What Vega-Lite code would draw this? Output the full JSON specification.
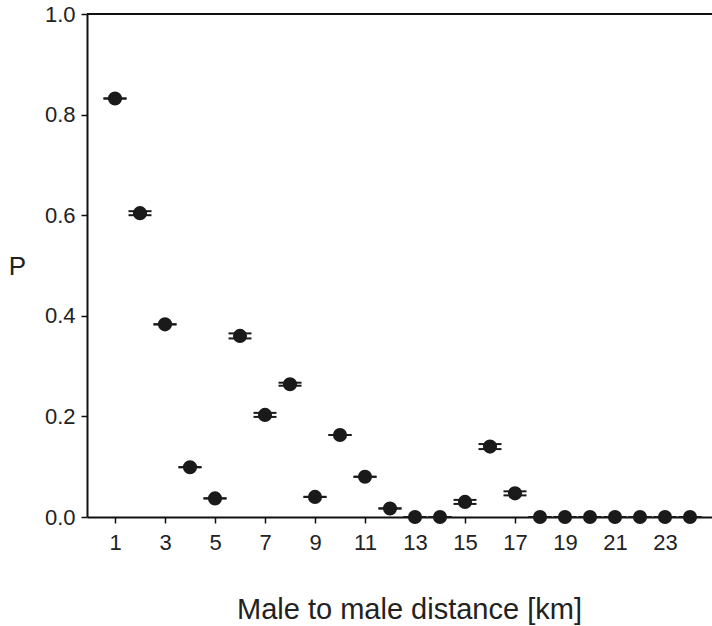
{
  "$schema": "https://vega.github.io/schema/vega-lite/v6.json",
  "autosize": {"type": "none"},
  "width": 625,
  "height": 503,
  "padding": {"left": 87, "top": 14, "right": 0, "bottom": 109},
  "background": "white",
  "config": {
    "view": {"stroke": null},
    "font": "Liberation Sans",
    "axis": {
      "domainColor": "#111",
      "domainWidth": 2,
      "tickColor": "#111",
      "tickWidth": 1.5,
      "tickSize": 6,
      "grid": false,
      "labelColor": "#222",
      "labelFont": "Liberation Sans",
      "labelFontSize": 22,
      "titleFont": "Liberation Sans",
      "titleFontWeight": "normal",
      "titleColor": "#222"
    }
  },
  "data": {
    "values": [
      {"d": 1, "p": 0.832, "lo": 0.832, "hi": 0.832},
      {"d": 2, "p": 0.604, "lo": 0.600, "hi": 0.608},
      {"d": 3, "p": 0.383, "lo": 0.383, "hi": 0.383},
      {"d": 4, "p": 0.099, "lo": 0.099, "hi": 0.099},
      {"d": 5, "p": 0.037, "lo": 0.037, "hi": 0.037},
      {"d": 6, "p": 0.360, "lo": 0.355, "hi": 0.365},
      {"d": 7, "p": 0.203, "lo": 0.199, "hi": 0.207},
      {"d": 8, "p": 0.264, "lo": 0.261, "hi": 0.267},
      {"d": 9, "p": 0.040, "lo": 0.040, "hi": 0.040},
      {"d": 10, "p": 0.163, "lo": 0.163, "hi": 0.163},
      {"d": 11, "p": 0.080, "lo": 0.080, "hi": 0.080},
      {"d": 12, "p": 0.017, "lo": 0.017, "hi": 0.017},
      {"d": 13, "p": 0.0, "lo": 0.0, "hi": 0.0},
      {"d": 14, "p": 0.0, "lo": 0.0, "hi": 0.0},
      {"d": 15, "p": 0.030, "lo": 0.026, "hi": 0.034},
      {"d": 16, "p": 0.140, "lo": 0.135, "hi": 0.145},
      {"d": 17, "p": 0.047, "lo": 0.043, "hi": 0.051},
      {"d": 18, "p": 0.0, "lo": 0.0, "hi": 0.0},
      {"d": 19, "p": 0.0, "lo": 0.0, "hi": 0.0},
      {"d": 20, "p": 0.0, "lo": 0.0, "hi": 0.0},
      {"d": 21, "p": 0.0, "lo": 0.0, "hi": 0.0},
      {"d": 22, "p": 0.0, "lo": 0.0, "hi": 0.0},
      {"d": 23, "p": 0.0, "lo": 0.0, "hi": 0.0},
      {"d": 24, "p": 0.0, "lo": 0.0, "hi": 0.0}
    ]
  },
  "encoding": {
    "x": {
      "field": "d",
      "type": "quantitative",
      "scale": {"domain": [-0.12, 24.88], "nice": false, "zero": false},
      "axis": {
        "values": [1, 3, 5, 7, 9, 11, 13, 15, 17, 19, 21, 23],
        "labelPadding": 9,
        "title": "Male to male distance [km]",
        "titleFontSize": 29,
        "titleX": 322,
        "titleY": 101,
        "titleAnchor": null,
        "titleAlign": "center",
        "titleBaseline": "alphabetic"
      }
    }
  },
  "layer": [
    {
      "mark": {"type": "rule", "color": "#111", "strokeWidth": 2},
      "encoding": {"y": {"datum": 1}, "x": null}
    },
    {
      "mark": {"type": "tick", "orient": "horizontal", "size": 23, "thickness": 2, "color": "#1a1a1a", "opacity": 1},
      "encoding": {"y": {"field": "lo", "type": "quantitative"}}
    },
    {
      "mark": {"type": "tick", "orient": "horizontal", "size": 23, "thickness": 2, "color": "#1a1a1a", "opacity": 1},
      "encoding": {"y": {"field": "hi", "type": "quantitative"}}
    },
    {
      "mark": {"type": "point", "shape": "circle", "filled": true, "size": 200, "color": "#1a1a1a", "opacity": 1},
      "encoding": {
        "y": {
          "field": "p",
          "type": "quantitative",
          "scale": {"domain": [0, 1], "nice": false},
          "axis": {
            "values": [0, 0.2, 0.4, 0.6, 0.8, 1.0],
            "format": ".1f",
            "labelPadding": 6,
            "title": "P",
            "titleAngle": 0,
            "titleFontSize": 26,
            "titleX": -70,
            "titleY": 252,
            "titleAlign": "center",
            "titleBaseline": "middle",
            "titleAnchor": null
          }
        }
      }
    }
  ],
  "resolve": {"scale": {"y": "shared"}}
}
